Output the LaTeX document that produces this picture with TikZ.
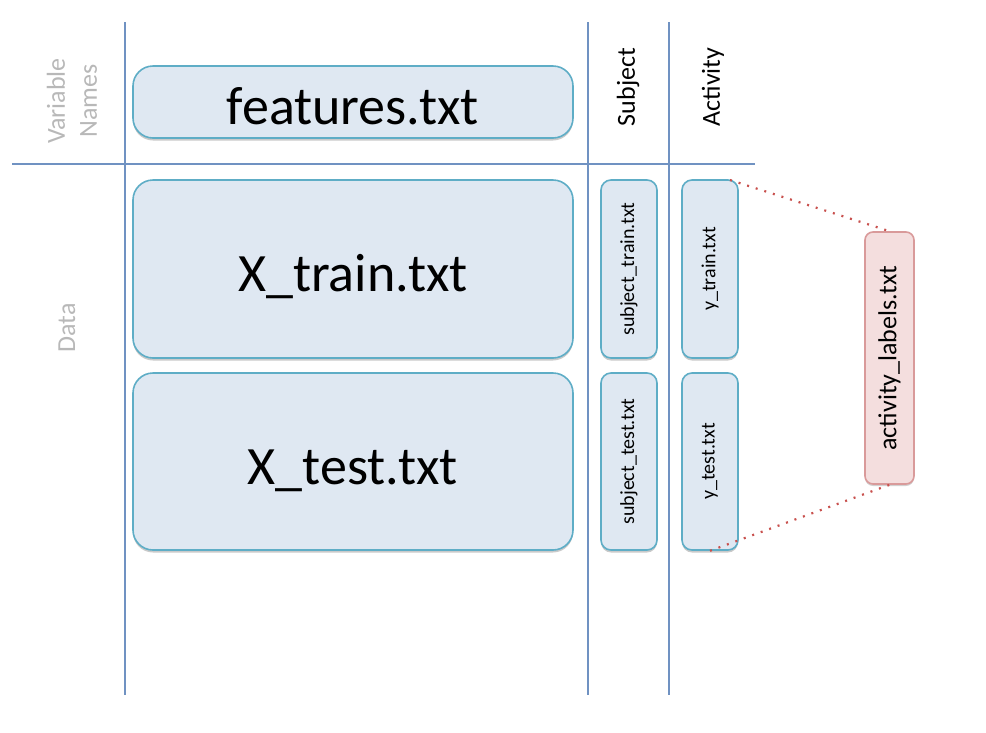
\documentclass[tikz,border=0pt]{standalone}
\usepackage{fontspec}
\setmainfont{Carlito}
\usetikzlibrary{shadows}
\definecolor{gridblue}{HTML}{7092C2}
\definecolor{boxfill}{HTML}{DFE8F2}
\definecolor{boxline}{HTML}{5EADC6}
\definecolor{redfill}{HTML}{F4DEDE}
\definecolor{redline}{HTML}{D99A9A}
\definecolor{dotred}{HTML}{C8504D}
\definecolor{labelgray}{HTML}{B8B8B8}
\tikzset{
  gridline/.style={draw=gridblue, line width=2.4pt},
  filebox/.style={draw=boxline, fill=boxfill, line width=1.6pt, inner sep=0pt,
    drop shadow={shadow xshift=0pt, shadow yshift=-2.5pt, opacity=0.35, fill=black!60}},
  bigbox/.style={filebox, rounded corners=20pt, minimum width=440pt, text height=45pt, text depth=0pt,
    font=\fontsize{54}{60}\selectfont},
  smallbox/.style={filebox, rounded corners=10pt, rotate=90, minimum height=56pt,
    font=\fontsize{20}{24}\selectfont},
  redbox/.style={draw=redline, fill=redfill, line width=1.6pt, inner sep=0pt, rounded corners=8pt,
    rotate=90, minimum width=252pt, minimum height=49pt, font=\fontsize{26}{30}\selectfont,
    drop shadow={shadow xshift=0pt, shadow yshift=-2pt, opacity=0.3, fill=black!60}},
  headlabel/.style={font=\fontsize{26}{32}\selectfont, rotate=90, align=center},
  dotline/.style={draw=dotred, line width=2.2pt, dash pattern=on 2pt off 7pt}
}
\begin{document}
\begin{tikzpicture}[x=1pt,y=-1pt]
\useasboundingbox (0,0) rectangle (986,732);
% grid lines
\draw[gridline] (125,22) -- (125,695);
\draw[gridline] (588,22) -- (588,695);
\draw[gridline] (669,22) -- (669,695);
\draw[gridline] (12,164) -- (755,164);
% row/column labels
\node[headlabel, text=labelgray] (varnames) at (72,101) {Variable\\Names};
\node[headlabel, text=labelgray] (datalbl) at (67,328) {Data};
\node[headlabel] (subjlbl) at (628,87) {Subject};
\node[headlabel] (actlbl) at (713,87) {Activity};
% big boxes
\node[bigbox, minimum height=72pt] (feat) at (353,102) {features.txt};
\node[bigbox, minimum height=178pt] (xtrain) at (353,269) {X\_train.txt};
\node[bigbox, minimum height=177pt] (xtest) at (353,461.5) {X\_test.txt};
% small boxes
\node[smallbox, minimum width=178pt] (strain) at (629,269) {subject\_train.txt};
\node[smallbox, minimum width=177pt] (stest) at (629,461.5) {subject\_test.txt};
\node[smallbox, minimum width=178pt] (ytrain) at (710,269) {y\_train.txt};
\node[smallbox, minimum width=177pt] (ytest) at (710,461.5) {y\_test.txt};
% activity labels
\node[redbox] (act) at (889.5,358) {activity\_labels.txt};
% dotted connectors
\coordinate (ytc) at (730,180);
\draw[dotline] (ytc) -- (act.east);
\draw[dotline] (ytest.west) -- (act.west);
\end{tikzpicture}
\end{document}
